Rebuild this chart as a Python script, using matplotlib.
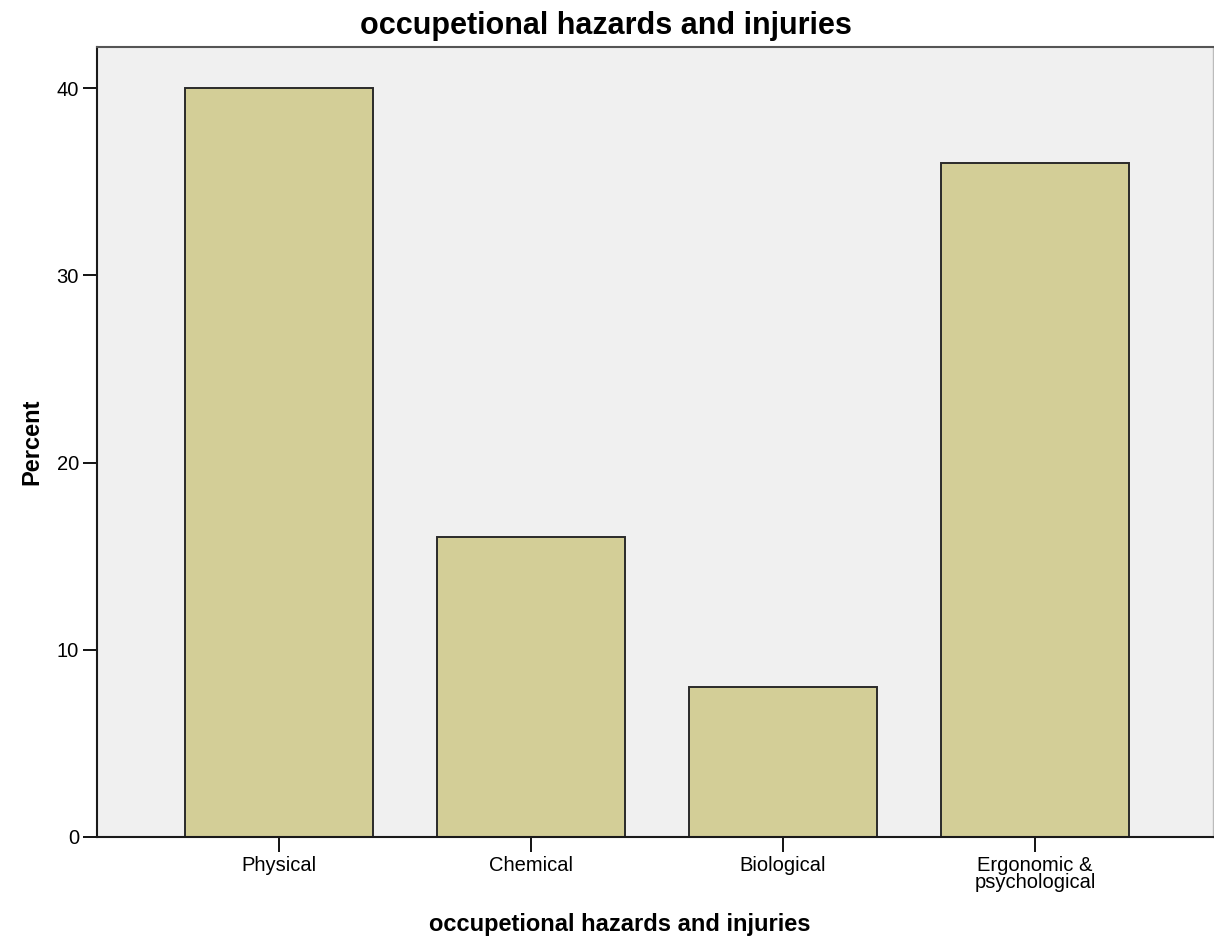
import numpy as np
import matplotlib.pyplot as plt

plt.rcParams['font.family'] = ['Liberation Sans', 'DejaVu Sans']

categories = ["Physical", "Chemical", "Biological", "Ergonomic &\npsychological"]
percent = [40, 16, 8, 36]
y_ticks = [0, 10, 20, 30, 40]

fig = plt.figure(figsize=(12.14, 9.49), dpi=100)
ax = fig.add_axes([97 / 1214, 112 / 949, 1116 / 1214, 790 / 949])
ax.set_facecolor('#f0f0f0')

x = np.arange(len(categories))
ax.bar(x, percent, width=0.746, color='#d3ce97', edgecolor='#2a2a2a', linewidth=1.4, zorder=2)

ax.set_xlim(-0.722, 3.706)
ax.set_ylim(0, 42.2)
ax.set_yticks(y_ticks)
ax.set_xticks(x)
ax.set_xticklabels(categories, fontsize=14.5, linespacing=0.85)
ax.tick_params(axis='y', labelsize=14.5, length=10, width=1.3, pad=3)
ax.tick_params(axis='x', length=11, width=1.3, pad=3)

for side in ['left', 'bottom']:
    ax.spines[side].set_color('#1a1a1a')
    ax.spines[side].set_linewidth(1.5)
ax.spines['top'].set_color('#555555')
ax.spines['top'].set_linewidth(1.5)
ax.spines['right'].set_color('#bbbbbb')
ax.spines['right'].set_linewidth(1.0)

fig.text(606 / 1214, 1 - 26 / 949, "occupetional hazards and injuries",
         fontsize=22, fontweight='bold', ha='center', va='center')
fig.text(620 / 1214, 1 - 925 / 949, "occupetional hazards and injuries",
         fontsize=17, fontweight='bold', ha='center', va='center')
fig.text(32 / 1214, 1 - 442 / 949, "Percent", fontsize=17, fontweight='bold',
         ha='center', va='center', rotation=90)

fig.savefig('out.png', dpi=100)
